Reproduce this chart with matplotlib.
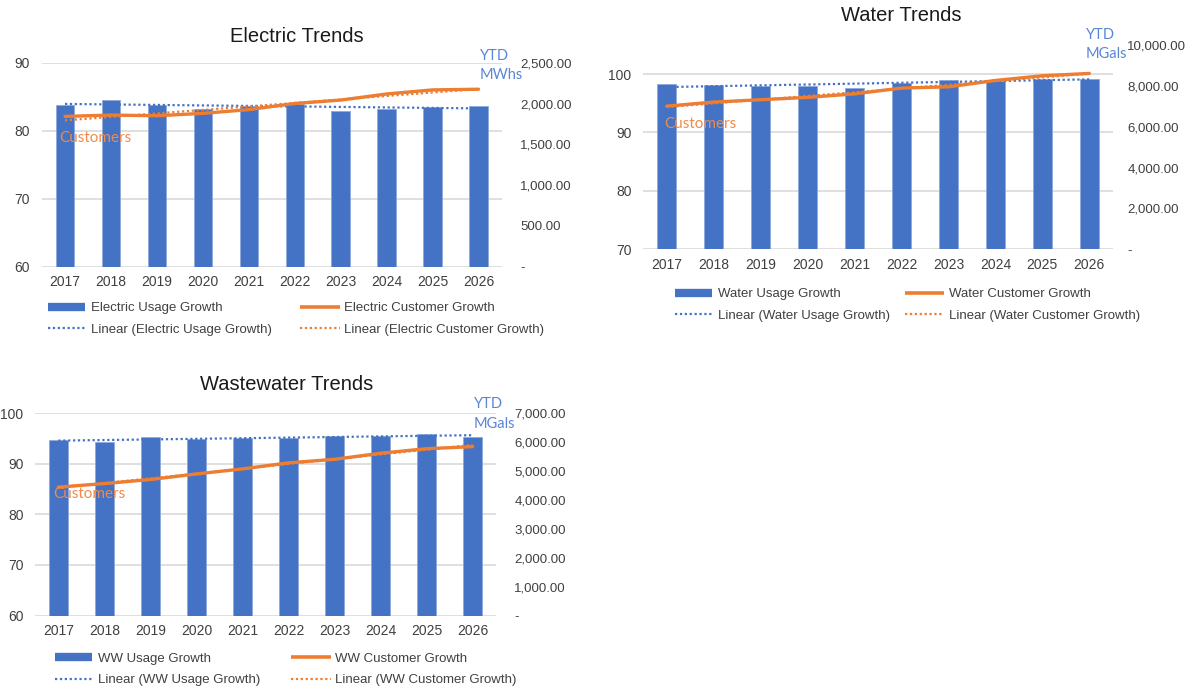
import numpy as np
import matplotlib.pyplot as plt
from matplotlib.lines import Line2D
from matplotlib.ticker import FuncFormatter

plt.rcParams['font.family'] = ['Liberation Sans', 'DejaVu Sans']

W, H = 1188, 687

years = ['2017', '2018', '2019', '2020', '2021', '2022', '2023', '2024', '2025', '2026']

# YTD usage (right axis) and customers (left axis)
elec_usage = [1985, 2037, 1985, 1936, 1965, 1998, 1908, 1928, 1957, 1973]
elec_cust = [82.1, 82.3, 82.2, 82.55, 83.1, 84.0, 84.5, 85.4, 86.0, 86.1]
water_usage = [8060, 8020, 7970, 7980, 7910, 8140, 8260, 8230, 8310, 8340]
water_cust = [94.5, 95.2, 95.6, 96.0, 96.6, 97.6, 97.8, 98.9, 99.7, 100.1]
ww_usage = [6060, 6000, 6170, 6105, 6140, 6140, 6205, 6205, 6285, 6170]
ww_cust = [85.4, 86.1, 86.9, 88.0, 89.0, 90.2, 90.9, 92.1, 93.0, 93.4]

BLUE = '#4472C4'
ORANGE = '#ED7D31'
UNIT_BLUE = '#5A86D6'
CUST_ORANGE = '#F08A4B'
GRID = '#D9D9D9'
TXT = '#404040'
DOT = (0, (1, 1.2))

fig = plt.figure(figsize=(W / 100, H / 100), dpi=100)


def fx(x):
    return x / W


def fy(y):
    return 1 - y / H


def money(v, pos):
    if v == 0:
        return '-'
    return '{:,.2f}'.format(v)


def trend(vals):
    # linear trendline like excel's
    x = np.arange(len(vals))
    k, b = np.polyfit(x, vals, 1)
    return x, k * x + b


def panel(box, usage, cust, left_lim, left_ticks, right_lim, right_ticks,
          title, title_xy, unit, unit_xy, cust_xy, names, leg_xy, leg_col2,
          rpad=13.5):
    x0, y0, x1, y1 = box
    rect = [fx(x0), fy(y1), (x1 - x0) / W, (y1 - y0) / H]
    x = np.arange(len(years))

    # base axes: left scale + gridlines
    ax = fig.add_axes(rect, zorder=1)
    ax.set_xlim(-0.5, len(years) - 0.5)
    ax.set_ylim(*left_lim)
    ax.set_yticks(left_ticks)
    ax.set_xticks(x)
    ax.set_xticklabels(years)
    ax.grid(axis='y', color=GRID, lw=1.2)
    ax.set_axisbelow(True)
    for s in ax.spines.values():
        s.set_visible(False)
    ax.tick_params(axis='y', length=0, pad=8.5, labelsize=10, labelcolor=TXT)
    ax.tick_params(axis='x', length=0, pad=6, labelsize=10, labelcolor=TXT)

    # bars on right scale
    ax2 = ax.twinx()
    ax2.set_zorder(2)
    ax2.patch.set_visible(False)
    ax2.bar(x, usage, width=0.4, color=BLUE, edgecolor='#8FA9DD', lw=0.6)
    tx, ty = trend(usage)
    ax2.plot(tx, ty, color=BLUE, lw=1.6, ls=DOT)
    ax2.set_ylim(*right_lim)
    ax2.set_yticks(right_ticks)
    ax2.yaxis.set_major_formatter(FuncFormatter(money))
    for s in ax2.spines.values():
        s.set_visible(False)
    ax2.tick_params(axis='y', length=0, pad=rpad, labelsize=9.5, labelcolor=TXT)

    # customers on left scale, drawn on top
    ax3 = ax.twinx()
    ax3.set_zorder(3)
    ax3.patch.set_visible(False)
    ax3.set_ylim(*left_lim)
    ax3.plot(x, cust, color=ORANGE, lw=2.4, solid_capstyle='round')
    tx, ty = trend(cust)
    ax3.plot(tx, ty, color=ORANGE, lw=1.6, ls=DOT)
    ax3.set_yticks([])
    for s in ax3.spines.values():
        s.set_visible(False)

    fig.text(fx(title_xy[0]), fy(title_xy[1]), title, ha='center', va='center',
             fontsize=14.5, color='#1a1a1a')
    fig.text(fx(unit_xy[0]), fy(unit_xy[1]), unit, ha='left', va='center',
             fontsize=10.5, color=UNIT_BLUE, family='Lato', linespacing=1.5)
    fig.text(fx(cust_xy[0]), fy(cust_xy[1]), 'Customers', ha='left', va='center',
             fontsize=11, color=CUST_ORANGE, family='Lato', zorder=5)

    h_bar = Line2D([], [], color=BLUE, lw=6, solid_capstyle='butt')
    h_line = Line2D([], [], color=ORANGE, lw=2.6, solid_capstyle='butt')
    h_tb = Line2D([], [], color=BLUE, lw=1.6, ls=DOT)
    h_to = Line2D([], [], color=ORANGE, lw=1.6, ls=DOT)
    labs = [names[0], 'Linear (%s)' % names[0], names[1], 'Linear (%s)' % names[1]]
    hs = [h_bar, h_tb, h_line, h_to]
    # first column
    fig.legend(handles=hs[:2], labels=labs[:2], loc='upper left',
               bbox_to_anchor=(fx(leg_xy[0]), fy(leg_xy[1])), frameon=False,
               fontsize=9.5, handlelength=2.8, handletextpad=0.45,
               labelspacing=0.72, borderpad=0, borderaxespad=0, labelcolor=TXT)
    # second column
    fig.legend(handles=hs[2:], labels=labs[2:], loc='upper left',
               bbox_to_anchor=(fx(leg_col2), fy(leg_xy[1])), frameon=False,
               fontsize=9.5, handlelength=3.0, handletextpad=0.35,
               labelspacing=0.72, borderpad=0, borderaxespad=0, labelcolor=TXT)


panel((42, 62.7, 501.5, 266.7), elec_usage, elec_cust,
      (60, 90), [60, 70, 80, 90], (0, 2500), np.arange(0, 2501, 500),
      'Electric Trends', (296.5, 36.7), 'YTD\nMWhs', (480, 65.5), (59, 138),
      ['Electric Usage Growth', 'Electric Customer Growth'], (48, 302), 300)

panel((643.2, 44.8, 1112.8, 249.3), water_usage, water_cust,
      (70, 105), [70, 80, 90, 100], (0, 10000), np.arange(0, 10001, 2000),
      'Water Trends', (901.5, 15.7), 'YTD\nMGals', (1085.5, 44.5), (664, 124),
      ['Water Usage Growth', 'Water Customer Growth'], (675, 288), 904.6,
      rpad=10.5)

panel((35.3, 413.3, 495.7, 615.5), ww_usage, ww_cust,
      (60, 100), [60, 70, 80, 90, 100], (0, 7000), np.arange(0, 7001, 1000),
      'Wastewater Trends', (286.5, 385), 'YTD\nMGals', (474, 414), (53, 494),
      ['WW Usage Growth', 'WW Customer Growth'], (55, 652.5), 291)

fig.savefig('out.png', dpi=100)
